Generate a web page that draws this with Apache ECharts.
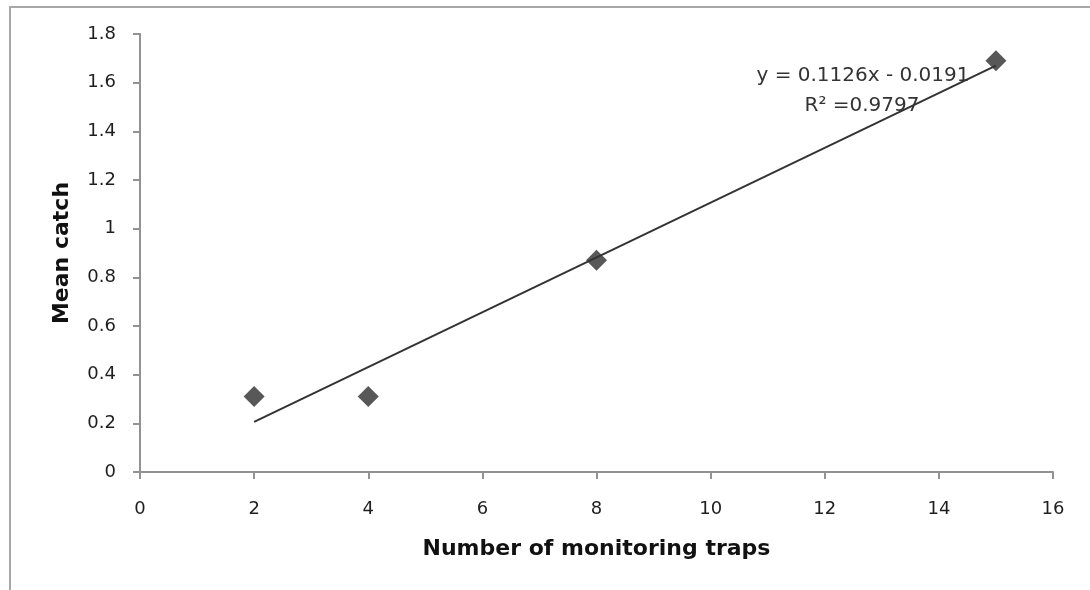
<!DOCTYPE html>
<html>
<head>
<meta charset="utf-8">
<script src="https://cdn.jsdelivr.net/npm/echarts@6/dist/echarts.min.js"></script>
<style>
  html, body { margin: 0; padding: 0; background: #ffffff; }
  #chart { width: 1090px; height: 590px; }
</style>
</head>
<body>
<div id="chart"></div>
<script>
// Mean catch against the number of monitoring traps
const trapCounts = [2, 4, 8, 15];
const meanCatch = [0.31, 0.31, 0.87, 1.69];

// Linear trendline end points (y = 0.1126x - 0.0191 over the data range)
const trendX = [2, 15];
const trendY = [0.2061, 1.6699];

const equationText = 'y = 0.1126x - 0.0191';
const rSquaredText = 'R² =0.9797';

const xTitle = 'Number of monitoring traps';
const yTitle = 'Mean catch';

const axisGray = '#929292';
const labelFont = { fontFamily: 'DejaVu Sans', fontSize: 18, color: '#1e1e1e' };
const titleFont = { fontFamily: 'DejaVu Sans', fontSize: 22, fontWeight: 'bold', color: '#111111' };

const chart = echarts.init(document.getElementById('chart'), null, { renderer: 'canvas' });

chart.setOption({
  backgroundColor: '#ffffff',
  animation: false,
  grid: { left: 140, right: 37, top: 34, bottom: 118, containLabel: false },
  xAxis: {
    type: 'value',
    min: 0, max: 16, interval: 2,
    name: xTitle,
    nameLocation: 'middle',
    nameGap: 66,
    nameTextStyle: titleFont,
    axisLine: { show: true, onZero: false, lineStyle: { color: axisGray, width: 2 } },
    axisTick: { show: true, inside: false, length: 7, lineStyle: { color: axisGray, width: 2 } },
    axisLabel: Object.assign({ margin: 28 }, labelFont),
    splitLine: { show: false }
  },
  yAxis: {
    type: 'value',
    min: 0, max: 1.8, interval: 0.2,
    name: yTitle,
    nameLocation: 'middle',
    nameGap: 67,
    nameTextStyle: titleFont,
    axisLine: { show: true, onZero: false, lineStyle: { color: axisGray, width: 2 } },
    axisTick: { show: true, inside: false, length: 7, lineStyle: { color: axisGray, width: 2 } },
    axisLabel: Object.assign({
      margin: 24,
      formatter: v => String(Math.round(v * 10) / 10)
    }, labelFont),
    splitLine: { show: false }
  },
  series: [
    {
      name: 'Mean catch',
      type: 'scatter',
      data: trapCounts.map((x, i) => [x, meanCatch[i]]),
      symbol: 'diamond',
      symbolSize: 21,
      itemStyle: { color: '#585858', opacity: 1 },
      z: 2
    },
    {
      name: 'Linear trend',
      type: 'line',
      data: trendX.map((x, i) => [x, trendY[i]]),
      symbol: 'none',
      lineStyle: { color: '#333333', width: 2 },
      z: 3
    }
  ],
  graphic: [
    {
      type: 'rect',
      silent: true,
      shape: { x: 10, y: 7, width: 1200, height: 1000 },
      style: { fill: 'none', stroke: '#a8a8a8', lineWidth: 2 }
    },
    {
      type: 'text',
      silent: true,
      x: 863, y: 76,
      style: {
        text: equationText,
        fontFamily: 'DejaVu Sans', fontSize: 20, fill: '#333333',
        align: 'center', verticalAlign: 'middle'
      },
      z: 10
    },
    {
      type: 'text',
      silent: true,
      x: 862, y: 106,
      style: {
        text: rSquaredText,
        fontFamily: 'DejaVu Sans', fontSize: 20, fill: '#333333',
        align: 'center', verticalAlign: 'middle'
      },
      z: 10
    }
  ]
});
</script>
</body>
</html>
